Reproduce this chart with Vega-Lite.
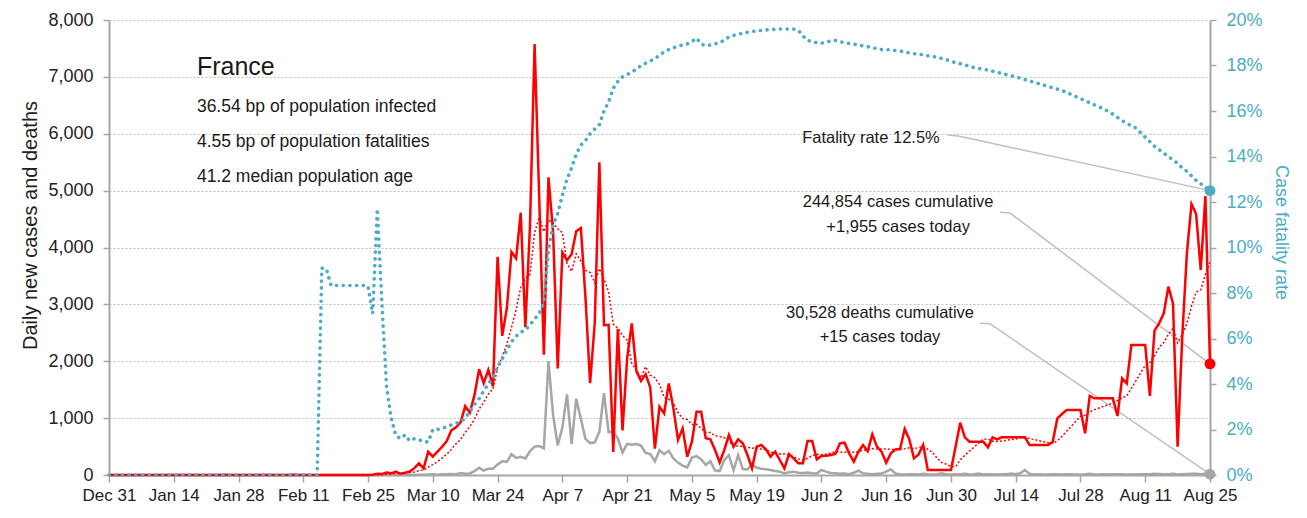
{
"$schema":"https://vega.github.io/schema/vega-lite/v6.json",
"width":1101,"height":455,
"autosize":{"type":"none"},
"padding":{"left":109,"top":20,"right":97,"bottom":43},
"background":"white",
"config":{
 "view":{"stroke":null},
 "font":"Liberation Sans",
 "text":{"font":"Liberation Sans","color":"#1a1a1a"},
 "axis":{"labelFont":"Liberation Sans","labelFontSize":18,"labelColor":"#222222","titleFont":"Liberation Sans","titleFontSize":20,"titleFontWeight":"normal","titleColor":"#222222","domainColor":"#A6A6A6","domainWidth":2,"tickColor":"#A6A6A6","tickWidth":1.5,"tickSize":6,"grid":false,"labelOverlap":false,"labelBound":false,"labelFlush":false}
},
"data":{"values":[
{"date":"2019-12-31","cases":0,"deaths":0,"avg":0,"cfr":0},
{"date":"2020-01-01","cases":0,"deaths":0,"avg":0,"cfr":0},
{"date":"2020-01-02","cases":0,"deaths":0,"avg":0,"cfr":0},
{"date":"2020-01-03","cases":0,"deaths":0,"avg":0,"cfr":0},
{"date":"2020-01-04","cases":0,"deaths":0,"avg":0,"cfr":0},
{"date":"2020-01-05","cases":0,"deaths":0,"avg":0,"cfr":0},
{"date":"2020-01-06","cases":0,"deaths":0,"avg":0,"cfr":0},
{"date":"2020-01-07","cases":0,"deaths":0,"avg":0,"cfr":0},
{"date":"2020-01-08","cases":0,"deaths":0,"avg":0,"cfr":0},
{"date":"2020-01-09","cases":0,"deaths":0,"avg":0,"cfr":0},
{"date":"2020-01-10","cases":0,"deaths":0,"avg":0,"cfr":0},
{"date":"2020-01-11","cases":0,"deaths":0,"avg":0,"cfr":0},
{"date":"2020-01-12","cases":0,"deaths":0,"avg":0,"cfr":0},
{"date":"2020-01-13","cases":0,"deaths":0,"avg":0,"cfr":0},
{"date":"2020-01-14","cases":0,"deaths":0,"avg":0,"cfr":0},
{"date":"2020-01-15","cases":0,"deaths":0,"avg":0,"cfr":0},
{"date":"2020-01-16","cases":0,"deaths":0,"avg":0,"cfr":0},
{"date":"2020-01-17","cases":0,"deaths":0,"avg":0,"cfr":0},
{"date":"2020-01-18","cases":0,"deaths":0,"avg":0,"cfr":0},
{"date":"2020-01-19","cases":0,"deaths":0,"avg":0,"cfr":0},
{"date":"2020-01-20","cases":0,"deaths":0,"avg":0,"cfr":0},
{"date":"2020-01-21","cases":0,"deaths":0,"avg":0,"cfr":0},
{"date":"2020-01-22","cases":0,"deaths":0,"avg":0,"cfr":0},
{"date":"2020-01-23","cases":0,"deaths":0,"avg":0,"cfr":0},
{"date":"2020-01-24","cases":0,"deaths":0,"avg":0,"cfr":0},
{"date":"2020-01-25","cases":3,"deaths":0,"avg":0.4,"cfr":0},
{"date":"2020-01-26","cases":0,"deaths":0,"avg":0.4,"cfr":0},
{"date":"2020-01-27","cases":0,"deaths":0,"avg":0.4,"cfr":0},
{"date":"2020-01-28","cases":1,"deaths":0,"avg":0.6,"cfr":0},
{"date":"2020-01-29","cases":0,"deaths":0,"avg":0.6,"cfr":0},
{"date":"2020-01-30","cases":1,"deaths":0,"avg":0.7,"cfr":0},
{"date":"2020-01-31","cases":0,"deaths":0,"avg":0.7,"cfr":0},
{"date":"2020-02-01","cases":1,"deaths":0,"avg":0.4,"cfr":0},
{"date":"2020-02-02","cases":0,"deaths":0,"avg":0.4,"cfr":0},
{"date":"2020-02-03","cases":0,"deaths":0,"avg":0.4,"cfr":0},
{"date":"2020-02-04","cases":0,"deaths":0,"avg":0.3,"cfr":0},
{"date":"2020-02-05","cases":0,"deaths":0,"avg":0.3,"cfr":0},
{"date":"2020-02-06","cases":0,"deaths":0,"avg":0.1,"cfr":0},
{"date":"2020-02-07","cases":0,"deaths":0,"avg":0.1,"cfr":0},
{"date":"2020-02-08","cases":0,"deaths":0,"avg":0,"cfr":0},
{"date":"2020-02-09","cases":5,"deaths":0,"avg":0.7,"cfr":0},
{"date":"2020-02-10","cases":0,"deaths":0,"avg":0.7,"cfr":0},
{"date":"2020-02-11","cases":0,"deaths":0,"avg":0.7,"cfr":0},
{"date":"2020-02-12","cases":0,"deaths":0,"avg":0.7,"cfr":0},
{"date":"2020-02-13","cases":0,"deaths":0,"avg":0.7,"cfr":0},
{"date":"2020-02-14","cases":0,"deaths":0,"avg":0.7,"cfr":0},
{"date":"2020-02-15","cases":0,"deaths":1,"avg":0.7,"cfr":9.09},
{"date":"2020-02-16","cases":0,"deaths":0,"avg":0,"cfr":9.05},
{"date":"2020-02-17","cases":1,"deaths":0,"avg":0.1,"cfr":8.33},
{"date":"2020-02-18","cases":0,"deaths":0,"avg":0.1,"cfr":8.33},
{"date":"2020-02-19","cases":0,"deaths":0,"avg":0.1,"cfr":8.33},
{"date":"2020-02-20","cases":0,"deaths":0,"avg":0.1,"cfr":8.33},
{"date":"2020-02-21","cases":0,"deaths":0,"avg":0.1,"cfr":8.33},
{"date":"2020-02-22","cases":0,"deaths":0,"avg":0.1,"cfr":8.33},
{"date":"2020-02-23","cases":0,"deaths":0,"avg":0.1,"cfr":8.33},
{"date":"2020-02-24","cases":0,"deaths":0,"avg":0,"cfr":8.33},
{"date":"2020-02-25","cases":2,"deaths":0,"avg":0.3,"cfr":8.3},
{"date":"2020-02-26","cases":4,"deaths":1,"avg":0.9,"cfr":7.1},
{"date":"2020-02-27","cases":20,"deaths":0,"avg":3.7,"cfr":11.7},
{"date":"2020-02-28","cases":19,"deaths":0,"avg":6.4,"cfr":7.5},
{"date":"2020-02-29","cases":43,"deaths":0,"avg":12.6,"cfr":3.9},
{"date":"2020-03-01","cases":30,"deaths":0,"avg":16.9,"cfr":2.5},
{"date":"2020-03-02","cases":61,"deaths":1,"avg":25.6,"cfr":1.75},
{"date":"2020-03-03","cases":21,"deaths":1,"avg":28.3,"cfr":1.6},
{"date":"2020-03-04","cases":40,"deaths":0,"avg":33.4,"cfr":1.76},
{"date":"2020-03-05","cases":60,"deaths":2,"avg":39.1,"cfr":1.5},
{"date":"2020-03-06","cases":120,"deaths":2,"avg":53.6,"cfr":1.6},
{"date":"2020-03-07","cases":205,"deaths":3,"avg":76.7,"cfr":1.55},
{"date":"2020-03-08","cases":117,"deaths":3,"avg":89.1,"cfr":1.47},
{"date":"2020-03-09","cases":410,"deaths":8,"avg":139,"cfr":1.45},
{"date":"2020-03-10","cases":322,"deaths":11,"avg":182,"cfr":2.0},
{"date":"2020-03-11","cases":410,"deaths":3,"avg":235,"cfr":2.0},
{"date":"2020-03-12","cases":497,"deaths":15,"avg":297,"cfr":2.05},
{"date":"2020-03-13","cases":595,"deaths":13,"avg":365,"cfr":2.12},
{"date":"2020-03-14","cases":785,"deaths":18,"avg":448,"cfr":2.2},
{"date":"2020-03-15","cases":838,"deaths":12,"avg":551,"cfr":2.27},
{"date":"2020-03-16","cases":924,"deaths":36,"avg":624,"cfr":2.34},
{"date":"2020-03-17","cases":1210,"deaths":21,"avg":751,"cfr":2.5},
{"date":"2020-03-18","cases":1097,"deaths":27,"avg":849,"cfr":2.8},
{"date":"2020-03-19","cases":1404,"deaths":69,"avg":979,"cfr":3.1},
{"date":"2020-03-20","cases":1861,"deaths":128,"avg":1160,"cfr":3.35},
{"date":"2020-03-21","cases":1617,"deaths":78,"avg":1279,"cfr":3.7},
{"date":"2020-03-22","cases":1847,"deaths":112,"avg":1423,"cfr":4.0},
{"date":"2020-03-23","cases":1559,"deaths":112,"avg":1514,"cfr":4.3},
{"date":"2020-03-24","cases":3838,"deaths":186,"avg":1889,"cfr":4.75},
{"date":"2020-03-25","cases":2446,"deaths":240,"avg":2082,"cfr":5.1},
{"date":"2020-03-26","cases":2931,"deaths":231,"avg":2300,"cfr":5.5},
{"date":"2020-03-27","cases":3922,"deaths":365,"avg":2594,"cfr":5.85},
{"date":"2020-03-28","cases":3809,"deaths":299,"avg":2907,"cfr":6.1},
{"date":"2020-03-29","cases":4611,"deaths":319,"avg":3302,"cfr":6.28},
{"date":"2020-03-30","cases":2599,"deaths":292,"avg":3451,"cfr":6.37},
{"date":"2020-03-31","cases":4376,"deaths":418,"avg":3528,"cfr":6.6},
{"date":"2020-04-01","cases":7578,"deaths":499,"avg":4261,"cfr":6.85},
{"date":"2020-04-02","cases":4861,"deaths":509,"avg":4537,"cfr":7.1},
{"date":"2020-04-03","cases":2116,"deaths":471,"avg":4279,"cfr":7.6},
{"date":"2020-04-04","cases":5233,"deaths":2004,"avg":4482,"cfr":9.9},
{"date":"2020-04-05","cases":4267,"deaths":1053,"avg":4433,"cfr":11.0},
{"date":"2020-04-06","cases":1873,"deaths":518,"avg":4329,"cfr":11.5},
{"date":"2020-04-07","cases":3912,"deaths":833,"avg":4263,"cfr":12.3},
{"date":"2020-04-08","cases":3777,"deaths":1417,"avg":3720,"cfr":13.0},
{"date":"2020-04-09","cases":3881,"deaths":541,"avg":3580,"cfr":13.5},
{"date":"2020-04-10","cases":4286,"deaths":1341,"avg":3890,"cfr":14.1},
{"date":"2020-04-11","cases":4342,"deaths":987,"avg":3763,"cfr":14.5},
{"date":"2020-04-12","cases":3114,"deaths":635,"avg":3598,"cfr":14.7},
{"date":"2020-04-13","cases":1613,"deaths":561,"avg":3561,"cfr":15.0},
{"date":"2020-04-14","cases":2673,"deaths":574,"avg":3384,"cfr":15.2},
{"date":"2020-04-15","cases":5497,"deaths":762,"avg":3629,"cfr":15.4},
{"date":"2020-04-16","cases":2633,"deaths":1438,"avg":3451,"cfr":16.0},
{"date":"2020-04-17","cases":2641,"deaths":753,"avg":3216,"cfr":16.4},
{"date":"2020-04-18","cases":405,"deaths":761,"avg":2654,"cfr":17.0},
{"date":"2020-04-19","cases":2569,"deaths":642,"avg":2576,"cfr":17.3},
{"date":"2020-04-20","cases":785,"deaths":395,"avg":2458,"cfr":17.5},
{"date":"2020-04-21","cases":2051,"deaths":547,"avg":2369,"cfr":17.6},
{"date":"2020-04-22","cases":2667,"deaths":531,"avg":1964,"cfr":17.7},
{"date":"2020-04-23","cases":1827,"deaths":544,"avg":1849,"cfr":17.85},
{"date":"2020-04-24","cases":1653,"deaths":516,"avg":1708,"cfr":18.0},
{"date":"2020-04-25","cases":1773,"deaths":389,"avg":1904,"cfr":18.1},
{"date":"2020-04-26","cases":1537,"deaths":369,"avg":1756,"cfr":18.2},
{"date":"2020-04-27","cases":464,"deaths":242,"avg":1710,"cfr":18.3},
{"date":"2020-04-28","cases":1201,"deaths":437,"avg":1589,"cfr":18.45},
{"date":"2020-04-29","cases":1084,"deaths":367,"avg":1363,"cfr":18.6},
{"date":"2020-04-30","cases":1611,"deaths":427,"avg":1332,"cfr":18.7},
{"date":"2020-05-01","cases":1172,"deaths":289,"avg":1263,"cfr":18.78},
{"date":"2020-05-02","cases":615,"deaths":218,"avg":1098,"cfr":18.85},
{"date":"2020-05-03","cases":820,"deaths":166,"avg":995,"cfr":18.9},
{"date":"2020-05-04","cases":322,"deaths":135,"avg":975,"cfr":18.95},
{"date":"2020-05-05","cases":586,"deaths":306,"avg":887,"cfr":19.05},
{"date":"2020-05-06","cases":1113,"deaths":330,"avg":891,"cfr":19.2},
{"date":"2020-05-07","cases":1113,"deaths":278,"avg":820,"cfr":18.95},
{"date":"2020-05-08","cases":645,"deaths":178,"avg":745,"cfr":18.86},
{"date":"2020-05-09","cases":627,"deaths":243,"avg":747,"cfr":18.9},
{"date":"2020-05-10","cases":440,"deaths":80,"avg":692,"cfr":18.95},
{"date":"2020-05-11","cases":223,"deaths":70,"avg":678,"cfr":19.0},
{"date":"2020-05-12","cases":440,"deaths":263,"avg":657,"cfr":19.12},
{"date":"2020-05-13","cases":703,"deaths":348,"avg":599,"cfr":19.25},
{"date":"2020-05-14","cases":498,"deaths":83,"avg":511,"cfr":19.32},
{"date":"2020-05-15","cases":627,"deaths":351,"avg":508,"cfr":19.37},
{"date":"2020-05-16","cases":557,"deaths":104,"avg":498,"cfr":19.42},
{"date":"2020-05-17","cases":352,"deaths":96,"avg":486,"cfr":19.46},
{"date":"2020-05-18","cases":117,"deaths":186,"avg":471,"cfr":19.5},
{"date":"2020-05-19","cases":498,"deaths":131,"avg":479,"cfr":19.52},
{"date":"2020-05-20","cases":527,"deaths":110,"avg":454,"cfr":19.54},
{"date":"2020-05-21","cases":451,"deaths":100,"avg":447,"cfr":19.56},
{"date":"2020-05-22","cases":322,"deaths":88,"avg":403,"cfr":19.58},
{"date":"2020-05-23","cases":410,"deaths":70,"avg":382,"cfr":19.59},
{"date":"2020-05-24","cases":264,"deaths":59,"avg":370,"cfr":19.6},
{"date":"2020-05-25","cases":117,"deaths":29,"avg":370,"cfr":19.6},
{"date":"2020-05-26","cases":369,"deaths":50,"avg":351,"cfr":19.6},
{"date":"2020-05-27","cases":293,"deaths":59,"avg":318,"cfr":19.6},
{"date":"2020-05-28","cases":205,"deaths":41,"avg":283,"cfr":19.55},
{"date":"2020-05-29","cases":205,"deaths":35,"avg":266,"cfr":19.3},
{"date":"2020-05-30","cases":598,"deaths":45,"avg":293,"cfr":19.1},
{"date":"2020-05-31","cases":598,"deaths":30,"avg":341,"cfr":19.05},
{"date":"2020-06-01","cases":275,"deaths":25,"avg":363,"cfr":19.0},
{"date":"2020-06-02","cases":334,"deaths":88,"avg":358,"cfr":18.98},
{"date":"2020-06-03","cases":340,"deaths":60,"avg":365,"cfr":19.02},
{"date":"2020-06-04","cases":352,"deaths":35,"avg":386,"cfr":19.08},
{"date":"2020-06-05","cases":369,"deaths":30,"avg":409,"cfr":19.1},
{"date":"2020-06-06","cases":557,"deaths":20,"avg":404,"cfr":19.05},
{"date":"2020-06-07","cases":568,"deaths":25,"avg":399,"cfr":19.0},
{"date":"2020-06-08","cases":381,"deaths":15,"avg":414,"cfr":18.97},
{"date":"2020-06-09","cases":234,"deaths":40,"avg":400,"cfr":18.94},
{"date":"2020-06-10","cases":410,"deaths":76,"avg":410,"cfr":18.9},
{"date":"2020-06-11","cases":527,"deaths":30,"avg":435,"cfr":18.86},
{"date":"2020-06-12","cases":420,"deaths":20,"avg":442,"cfr":18.83},
{"date":"2020-06-13","cases":715,"deaths":15,"avg":465,"cfr":18.78},
{"date":"2020-06-14","cases":498,"deaths":20,"avg":455,"cfr":18.74},
{"date":"2020-06-15","cases":410,"deaths":25,"avg":459,"cfr":18.7},
{"date":"2020-06-16","cases":217,"deaths":60,"avg":457,"cfr":18.7},
{"date":"2020-06-17","cases":381,"deaths":100,"avg":453,"cfr":18.68},
{"date":"2020-06-18","cases":451,"deaths":25,"avg":442,"cfr":18.66},
{"date":"2020-06-19","cases":457,"deaths":15,"avg":447,"cfr":18.63},
{"date":"2020-06-20","cases":809,"deaths":10,"avg":460,"cfr":18.6},
{"date":"2020-06-21","cases":627,"deaths":15,"avg":479,"cfr":18.55},
{"date":"2020-06-22","cases":293,"deaths":12,"avg":462,"cfr":18.52},
{"date":"2020-06-23","cases":363,"deaths":10,"avg":483,"cfr":18.5},
{"date":"2020-06-24","cases":527,"deaths":20,"avg":504,"cfr":18.47},
{"date":"2020-06-25","cases":88,"deaths":14,"avg":452,"cfr":18.43},
{"date":"2020-06-26","cases":88,"deaths":10,"avg":399,"cfr":18.4},
{"date":"2020-06-27","cases":88,"deaths":12,"avg":296,"cfr":18.36},
{"date":"2020-06-28","cases":88,"deaths":30,"avg":219,"cfr":18.31},
{"date":"2020-06-29","cases":88,"deaths":8,"avg":190,"cfr":18.25},
{"date":"2020-06-30","cases":88,"deaths":10,"avg":151,"cfr":18.2},
{"date":"2020-07-01","cases":498,"deaths":15,"avg":147,"cfr":18.12},
{"date":"2020-07-02","cases":920,"deaths":12,"avg":265,"cfr":18.08},
{"date":"2020-07-03","cases":662,"deaths":20,"avg":347,"cfr":18.02},
{"date":"2020-07-04","cases":586,"deaths":10,"avg":419,"cfr":17.97},
{"date":"2020-07-05","cases":586,"deaths":14,"avg":490,"cfr":17.9},
{"date":"2020-07-06","cases":586,"deaths":25,"avg":561,"cfr":17.87},
{"date":"2020-07-07","cases":586,"deaths":10,"avg":632,"cfr":17.83},
{"date":"2020-07-08","cases":486,"deaths":15,"avg":630,"cfr":17.8},
{"date":"2020-07-09","cases":662,"deaths":12,"avg":593,"cfr":17.75},
{"date":"2020-07-10","cases":627,"deaths":10,"avg":588,"cfr":17.7},
{"date":"2020-07-11","cases":662,"deaths":15,"avg":599,"cfr":17.65},
{"date":"2020-07-12","cases":662,"deaths":12,"avg":610,"cfr":17.6},
{"date":"2020-07-13","cases":662,"deaths":25,"avg":621,"cfr":17.55},
{"date":"2020-07-14","cases":662,"deaths":14,"avg":632,"cfr":17.5},
{"date":"2020-07-15","cases":662,"deaths":30,"avg":657,"cfr":17.44},
{"date":"2020-07-16","cases":662,"deaths":88,"avg":657,"cfr":17.38},
{"date":"2020-07-17","cases":527,"deaths":20,"avg":643,"cfr":17.32},
{"date":"2020-07-18","cases":527,"deaths":10,"avg":623,"cfr":17.26},
{"date":"2020-07-19","cases":527,"deaths":12,"avg":604,"cfr":17.2},
{"date":"2020-07-20","cases":527,"deaths":8,"avg":585,"cfr":17.14},
{"date":"2020-07-21","cases":527,"deaths":10,"avg":566,"cfr":17.08},
{"date":"2020-07-22","cases":586,"deaths":15,"avg":555,"cfr":17.02},
{"date":"2020-07-23","cases":996,"deaths":12,"avg":602,"cfr":16.96},
{"date":"2020-07-24","cases":1072,"deaths":10,"avg":680,"cfr":16.9},
{"date":"2020-07-25","cases":1143,"deaths":14,"avg":768,"cfr":16.82},
{"date":"2020-07-26","cases":1143,"deaths":12,"avg":856,"cfr":16.72},
{"date":"2020-07-27","cases":1143,"deaths":8,"avg":944,"cfr":16.63},
{"date":"2020-07-28","cases":1143,"deaths":10,"avg":1032,"cfr":16.54},
{"date":"2020-07-29","cases":733,"deaths":12,"avg":1053,"cfr":16.45},
{"date":"2020-07-30","cases":1389,"deaths":20,"avg":1109,"cfr":16.36},
{"date":"2020-07-31","cases":1348,"deaths":10,"avg":1149,"cfr":16.27},
{"date":"2020-08-01","cases":1348,"deaths":8,"avg":1178,"cfr":16.18},
{"date":"2020-08-02","cases":1348,"deaths":12,"avg":1207,"cfr":16.1},
{"date":"2020-08-03","cases":1348,"deaths":10,"avg":1237,"cfr":15.98},
{"date":"2020-08-04","cases":1348,"deaths":14,"avg":1266,"cfr":15.86},
{"date":"2020-08-05","cases":1037,"deaths":12,"avg":1309,"cfr":15.72},
{"date":"2020-08-06","cases":1699,"deaths":15,"avg":1354,"cfr":15.58},
{"date":"2020-08-07","cases":1611,"deaths":10,"avg":1391,"cfr":15.45},
{"date":"2020-08-08","cases":2285,"deaths":12,"avg":1525,"cfr":15.35},
{"date":"2020-08-09","cases":2285,"deaths":8,"avg":1659,"cfr":15.25},
{"date":"2020-08-10","cases":2285,"deaths":14,"avg":1793,"cfr":15.05},
{"date":"2020-08-11","cases":2285,"deaths":12,"avg":1927,"cfr":14.85},
{"date":"2020-08-12","cases":1389,"deaths":15,"avg":1977,"cfr":14.65},
{"date":"2020-08-13","cases":2537,"deaths":20,"avg":2097,"cfr":14.45},
{"date":"2020-08-14","cases":2666,"deaths":18,"avg":2247,"cfr":14.3},
{"date":"2020-08-15","cases":2842,"deaths":12,"avg":2327,"cfr":14.15},
{"date":"2020-08-16","cases":3311,"deaths":15,"avg":2474,"cfr":14.0},
{"date":"2020-08-17","cases":3018,"deaths":20,"avg":2578,"cfr":13.85},
{"date":"2020-08-18","cases":498,"deaths":10,"avg":2323,"cfr":13.7},
{"date":"2020-08-19","cases":2432,"deaths":14,"avg":2472,"cfr":13.5},
{"date":"2020-08-20","cases":3897,"deaths":18,"avg":2666,"cfr":13.35},
{"date":"2020-08-21","cases":4764,"deaths":20,"avg":2966,"cfr":13.15},
{"date":"2020-08-22","cases":4588,"deaths":22,"avg":3215,"cfr":12.95},
{"date":"2020-08-23","cases":3604,"deaths":15,"avg":3257,"cfr":12.8},
{"date":"2020-08-24","cases":4905,"deaths":20,"avg":3527,"cfr":12.65},
{"date":"2020-08-25","cases":1955,"deaths":15,"avg":3735,"cfr":12.5}
]},
"layer":[
 {"layer":[
  {"mark":{"type":"line","color":"#A6A6A6","strokeWidth":2.5},
   "encoding":{
    "x":{"field":"date","type":"temporal",
     "scale":{"type":"utc","domain":[{"year":2019,"month":12,"date":31,"utc":true},{"year":2020,"month":8,"date":25,"utc":true}]},
     "axis":{"title":null,"format":"%b %-d","labelPadding":5,"tickSize":7,"labelFontSize":17,"labelFlush":false,"labelOverlap":false,
      "values":[{"year":2019,"month":12,"date":31,"utc":true},{"year":2020,"month":1,"date":14,"utc":true},{"year":2020,"month":1,"date":28,"utc":true},{"year":2020,"month":2,"date":11,"utc":true},{"year":2020,"month":2,"date":25,"utc":true},{"year":2020,"month":3,"date":10,"utc":true},{"year":2020,"month":3,"date":24,"utc":true},{"year":2020,"month":4,"date":7,"utc":true},{"year":2020,"month":4,"date":21,"utc":true},{"year":2020,"month":5,"date":5,"utc":true},{"year":2020,"month":5,"date":19,"utc":true},{"year":2020,"month":6,"date":2,"utc":true},{"year":2020,"month":6,"date":16,"utc":true},{"year":2020,"month":6,"date":30,"utc":true},{"year":2020,"month":7,"date":14,"utc":true},{"year":2020,"month":7,"date":28,"utc":true},{"year":2020,"month":8,"date":11,"utc":true},{"year":2020,"month":8,"date":25,"utc":true}]}},
    "y":{"field":"deaths","type":"quantitative","title":"Daily new cases and deaths","scale":{"domain":[0,8000]},
     "axis":{"orient":"left","values":[0,1000,2000,3000,4000,5000,6000,7000,8000],"labelExpr":"format(datum.value, ',')","grid":true,"gridColor":"#BFBFBF","gridDash":[2,2],"gridWidth":1,"labelPadding":10,"titleFontSize":20,"titleX":-79,"titleY":205,"titleBaseline":"middle","titleAlign":"center","titleAngle":-90}}}},
  {"data":{"values":[{}]},"mark":{"type":"rule","color":"#BFBFBF","strokeWidth":1.5},
   "encoding":{"x":{"datum":{"year":2020,"month":6,"date":29,"hours":7,"utc":true},"type":"temporal","scale":{"type":"utc"}},"y":{"datum":5977,"type":"quantitative"},"x2":{"datum":{"year":2020,"month":7,"date":1,"hours":14,"utc":true}},"y2":{"datum":5960}}},
  {"data":{"values":[{}]},"mark":{"type":"rule","color":"#BFBFBF","strokeWidth":1.5},
   "encoding":{"x":{"datum":{"year":2020,"month":7,"date":1,"hours":14,"utc":true},"type":"temporal","scale":{"type":"utc"}},"y":{"datum":5960,"type":"quantitative"},"x2":{"datum":{"year":2020,"month":8,"date":25,"utc":true}},"y2":{"datum":5000}}},
  {"data":{"values":[{}]},"mark":{"type":"rule","color":"#BFBFBF","strokeWidth":1.5},
   "encoding":{"x":{"datum":{"year":2020,"month":7,"date":10,"hours":14,"utc":true},"type":"temporal","scale":{"type":"utc"}},"y":{"datum":4618,"type":"quantitative"},"x2":{"datum":{"year":2020,"month":7,"date":12,"hours":19,"utc":true}},"y2":{"datum":4606}}},
  {"data":{"values":[{}]},"mark":{"type":"rule","color":"#BFBFBF","strokeWidth":1.5},
   "encoding":{"x":{"datum":{"year":2020,"month":7,"date":12,"hours":19,"utc":true},"type":"temporal","scale":{"type":"utc"}},"y":{"datum":4606,"type":"quantitative"},"x2":{"datum":{"year":2020,"month":8,"date":25,"utc":true}},"y2":{"datum":1955}}},
  {"data":{"values":[{}]},"mark":{"type":"rule","color":"#BFBFBF","strokeWidth":1.5},
   "encoding":{"x":{"datum":{"year":2020,"month":7,"date":6,"hours":7,"utc":true},"type":"temporal","scale":{"type":"utc"}},"y":{"datum":2667,"type":"quantitative"},"x2":{"datum":{"year":2020,"month":7,"date":8,"hours":10,"utc":true}},"y2":{"datum":2660}}},
  {"data":{"values":[{}]},"mark":{"type":"rule","color":"#BFBFBF","strokeWidth":1.5},
   "encoding":{"x":{"datum":{"year":2020,"month":7,"date":8,"hours":10,"utc":true},"type":"temporal","scale":{"type":"utc"}},"y":{"datum":2660,"type":"quantitative"},"x2":{"datum":{"year":2020,"month":8,"date":25,"utc":true}},"y2":{"datum":15}}},
  {"mark":{"type":"line","color":"#FF0000","strokeWidth":2.5},
   "encoding":{"x":{"field":"date","type":"temporal","scale":{"type":"utc"}},"y":{"field":"cases","type":"quantitative","title":"Daily new cases and deaths"}}},
  {"mark":{"type":"line","color":"#FF0000","strokeWidth":1.5,"strokeDash":[2,2]},
   "encoding":{"x":{"field":"date","type":"temporal","scale":{"type":"utc"}},"y":{"field":"avg","type":"quantitative","title":"Daily new cases and deaths"}}},
  {"data":{"values":[{}]},"mark":{"type":"point","filled":true,"opacity":1,"color":"#FF0000","size":120},
   "encoding":{"x":{"datum":{"year":2020,"month":8,"date":25,"utc":true},"type":"temporal","scale":{"type":"utc"}},"y":{"datum":1955,"type":"quantitative"}}},
  {"data":{"values":[{}]},"mark":{"type":"point","filled":true,"opacity":1,"color":"#A6A6A6","size":120},
   "encoding":{"x":{"datum":{"year":2020,"month":8,"date":25,"utc":true},"type":"temporal","scale":{"type":"utc"}},"y":{"datum":15,"type":"quantitative"}}},
  {"data":{"values":[{}]},"mark":{"type":"text","text":"France","fontSize":25,"align":"left","baseline":"alphabetic"},
   "encoding":{"x":{"datum":{"year":2020,"month":1,"date":19,"utc":true},"type":"temporal","scale":{"type":"utc"}},"y":{"datum":7032,"type":"quantitative"}}},
  {"data":{"values":[{}]},"mark":{"type":"text","text":"36.54 bp of population infected","fontSize":17.5,"align":"left","baseline":"alphabetic"},
   "encoding":{"x":{"datum":{"year":2020,"month":1,"date":19,"utc":true},"type":"temporal","scale":{"type":"utc"}},"y":{"datum":6382,"type":"quantitative"}}},
  {"data":{"values":[{}]},"mark":{"type":"text","text":"4.55 bp of population fatalities","fontSize":17.5,"align":"left","baseline":"alphabetic"},
   "encoding":{"x":{"datum":{"year":2020,"month":1,"date":19,"utc":true},"type":"temporal","scale":{"type":"utc"}},"y":{"datum":5766,"type":"quantitative"}}},
  {"data":{"values":[{}]},"mark":{"type":"text","text":"41.2 median population age","fontSize":17.5,"align":"left","baseline":"alphabetic"},
   "encoding":{"x":{"datum":{"year":2020,"month":1,"date":19,"utc":true},"type":"temporal","scale":{"type":"utc"}},"y":{"datum":5151,"type":"quantitative"}}},
  {"data":{"values":[{}]},"mark":{"type":"text","text":"Fatality rate 12.5%","fontSize":16.5,"align":"right","baseline":"alphabetic"},
   "encoding":{"x":{"datum":{"year":2020,"month":6,"date":27,"hours":14,"utc":true},"type":"temporal","scale":{"type":"utc"}},"y":{"datum":5845,"type":"quantitative"}}},
  {"data":{"values":[{}]},"mark":{"type":"text","text":"244,854 cases cumulative","fontSize":16.5,"align":"center","baseline":"alphabetic"},
   "encoding":{"x":{"datum":{"year":2020,"month":6,"date":18,"hours":14,"utc":true},"type":"temporal","scale":{"type":"utc"}},"y":{"datum":4706,"type":"quantitative"}}},
  {"data":{"values":[{}]},"mark":{"type":"text","text":"+1,955 cases today","fontSize":16.5,"align":"center","baseline":"alphabetic"},
   "encoding":{"x":{"datum":{"year":2020,"month":6,"date":18,"hours":14,"utc":true},"type":"temporal","scale":{"type":"utc"}},"y":{"datum":4277,"type":"quantitative"}}},
  {"data":{"values":[{}]},"mark":{"type":"text","text":"30,528 deaths cumulative","fontSize":16.5,"align":"center","baseline":"alphabetic"},
   "encoding":{"x":{"datum":{"year":2020,"month":6,"date":14,"hours":16,"utc":true},"type":"temporal","scale":{"type":"utc"}},"y":{"datum":2755,"type":"quantitative"}}},
  {"data":{"values":[{}]},"mark":{"type":"text","text":"+15 cases today","fontSize":16.5,"align":"center","baseline":"alphabetic"},
   "encoding":{"x":{"datum":{"year":2020,"month":6,"date":14,"hours":16,"utc":true},"type":"temporal","scale":{"type":"utc"}},"y":{"datum":2340,"type":"quantitative"}}}
 ]},
 {"layer":[
  {"mark":{"type":"line","color":"#4BACC6","strokeWidth":3.6,"strokeDash":[0.1,6.6],"strokeCap":"round"},
   "encoding":{"x":{"field":"date","type":"temporal","scale":{"type":"utc"}},
    "y":{"field":"cfr","type":"quantitative","title":"Case fatality rate","scale":{"domain":[0,20]},
    "axis":{"orient":"right","values":[0,2,4,6,8,10,12,14,16,18,20],"labelExpr":"datum.value + '%'","labelColor":"#4BACC6","titleColor":"#4BACC6","grid":false,"labelPadding":10,"titleFontSize":18,"titleX":70,"titleY":212,"titleBaseline":"middle","titleAlign":"center","titleAngle":90}}}},
  {"data":{"values":[{}]},"mark":{"type":"point","filled":true,"opacity":1,"color":"#4BACC6","size":120},
   "encoding":{"x":{"datum":{"year":2020,"month":8,"date":25,"utc":true},"type":"temporal","scale":{"type":"utc"}},"y":{"datum":12.5,"type":"quantitative"}}}
 ]}
],
"resolve":{"scale":{"y":"independent"},"axis":{"y":"independent"}}
}
